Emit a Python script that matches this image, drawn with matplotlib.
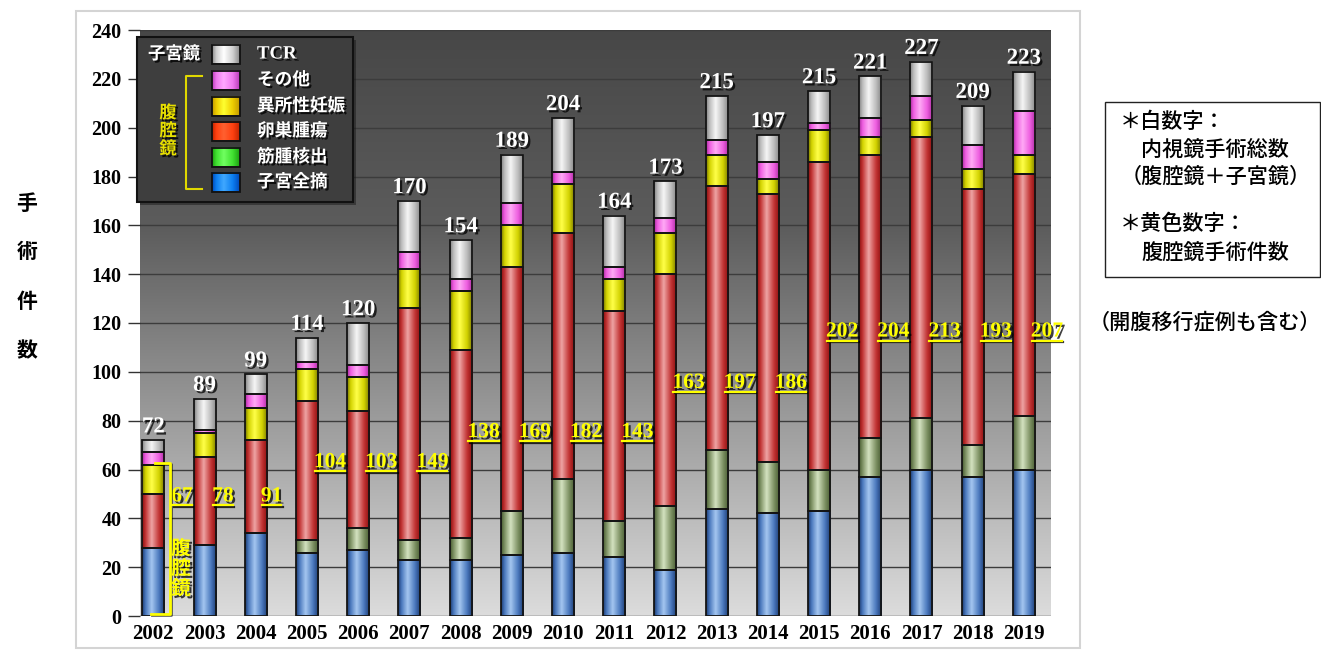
import numpy as np
import matplotlib
matplotlib.use('Agg')
import matplotlib.pyplot as plt
import matplotlib.patheffects as pe
from matplotlib.colors import LinearSegmentedColormap
from matplotlib.patches import Rectangle
from matplotlib.lines import Line2D

# ---------------- data ----------------
years = [str(y) for y in range(2002, 2020)]
hysterectomy = [28, 29, 34, 26, 27, 23, 23, 25, 26, 24, 19, 44, 42, 43, 57, 60, 57, 60]   # 子宮全摘
myomectomy   = [0, 0, 0, 5, 9, 8, 9, 18, 30, 15, 26, 24, 21, 17, 16, 21, 13, 22]         # 筋腫核出
ovarian      = [22, 36, 38, 57, 48, 95, 77, 100, 101, 86, 95, 108, 110, 126, 116, 115, 105, 99]  # 卵巣腫瘍
ectopic      = [12, 10, 13, 13, 14, 16, 24, 17, 20, 13, 17, 13, 6, 13, 7, 7, 8, 8]         # 異所性妊娠
other        = [5, 1, 6, 3, 5, 7, 5, 9, 5, 5, 6, 6, 7, 3, 8, 10, 10, 18]                  # その他
tcr          = [5, 13, 8, 10, 17, 21, 16, 20, 22, 21, 15, 18, 11, 13, 17, 14, 16, 16]      # TCR
total_labels = [72, 89, 99, 114, 120, 170, 154, 189, 204, 164, 173, 215, 197, 215, 221, 227, 209, 223]
lap_labels   = [67, 78, 91, 104, 103, 149, 138, 169, 182, 143, 163, 197, 186, 202, 204, 213, 193, 207]
legend_names = ['TCR', 'その他', '異所性妊娠', '卵巣腫瘍', '筋腫核出', '子宮全摘']
y_ticks = list(range(0, 241, 20))

# ---------------- layout / style ----------------
W, H = 1321, 650
fig = plt.figure(figsize=(W / 100, H / 100), dpi=100)
fig.patch.set_facecolor('white')
SERIF = 'Liberation Serif'
CJK = ['Noto Sans CJK JP', 'DejaVu Sans']

ax = fig.add_axes([140 / W, 1 - 616 / H, (1051 - 140) / W, (616 - 30) / H])
xl = (-0.26, 17.53)
yl = (0, 240)

# background gradient
bg = LinearSegmentedColormap.from_list('bg', ['#dcdcdc', '#9c9c9c', '#5c5c5c', '#474747'])
ax.imshow(np.linspace(0, 1, 256).reshape(-1, 1), extent=[xl[0], xl[1], yl[0], yl[1]],
          origin='lower', aspect='auto', cmap=bg, zorder=0, interpolation='bilinear')

ax.set_yticks(y_ticks)
ax.yaxis.grid(True, color='#3c3c3c', linewidth=1.0, zorder=1)
ax.set_axisbelow(False)
for s in ax.spines.values():
    s.set_visible(False)

series = [hysterectomy, myomectomy, ovarian, ectopic, other, tcr]
bar_cols = [
    ('#1b3a70', '#4a78bd', '#a4c6f0'),
    ('#465a30', '#7d9163', '#d4e2c0'),
    ('#8a0e0e', '#c23434', '#eea4a4'),
    ('#767600', '#d2d200', '#ffff48'),
    ('#a82a9e', '#ee5ee0', '#ffaaf6'),
    ('#848484', '#bcbcbc', '#f6f6f6'),
]


def grad_cmap(c):
    return LinearSegmentedColormap.from_list('g', [(0, c[0]), (0.15, c[1]), (0.42, c[2]),
                                                   (0.75, c[1]), (1, c[0])])


gx = np.linspace(0, 1, 64).reshape(1, -1)
x = np.arange(len(years))
bottom = np.zeros(len(years))
bw = 0.43
for vals, cols in zip(series, bar_cols):
    vals = np.array(vals, dtype=float)
    bars = ax.bar(x, vals, width=bw, bottom=bottom, color='none',
                  edgecolor='#141414', linewidth=1.3, zorder=4)
    cm = grad_cmap(cols)
    for b, v in zip(bars, vals):
        if v <= 0:
            continue
        ax.imshow(gx, extent=[b.get_x(), b.get_x() + b.get_width(), b.get_y(), b.get_y() + b.get_height()],
                  aspect='auto', cmap=cm, zorder=3, interpolation='bilinear')
    bottom += vals

shadow_dark = [pe.SimplePatchShadow(offset=(1.6, -1.6), shadow_rgbFace='black', alpha=0.75), pe.Normal()]

# total labels
for i, (top, lab) in enumerate(zip(bottom, total_labels)):
    ax.annotate(str(lab), (i, top), xytext=(0, 2), textcoords='offset points',
                ha='center', va='bottom', color='white', fontsize=16.5, fontweight='bold',
                family=SERIF, path_effects=shadow_dark, zorder=6)

# laparoscopy labels (yellow, underlined)
lap_y = [49, 49, 49, 63, 63, 63, 75.3, 75.3, 75.3, 75.3, 95.5, 95.5, 95.5, 116.5, 116.5, 116.5, 116.5, 116.5]
lap_dx = [0.56, 0.36, 0.31, 0.45, 0.45, 0.45, 0.45, 0.45, 0.45, 0.45, 0.45, 0.45, 0.45, 0.45, 0.45, 0.45, 0.45, 0.45]
lap_texts = []
for i, lab in enumerate(lap_labels):
    t = ax.text(i + lap_dx[i], lap_y[i], str(lab), ha='center', va='center', color='#ffff00',
                fontsize=15.5, fontweight='bold', family=SERIF, path_effects=shadow_dark, zorder=6)
    lap_texts.append(t)

ax.set_xticks(x)
ax.set_xticklabels(years, fontsize=15, fontweight='bold', family=SERIF)
ax.tick_params(axis='x', length=0, pad=6)
ax.tick_params(axis='y', length=8.5, color='#333333', width=1, pad=5)
for lab in ax.get_yticklabels():
    lab.set_fontsize(14.5)
    lab.set_fontweight('bold')
    lab.set_family(SERIF)
ax.set_xlim(*xl)
ax.set_ylim(*yl)

# ---------------- overlay in pixel coordinates ----------------
ov = fig.add_axes([0, 0, 1, 1], zorder=10)
ov.set_xlim(0, W)
ov.set_ylim(H, 0)
ov.axis('off')
ov.patch.set_alpha(0)

# outer frame
ov.add_patch(Rectangle((76, 11), 1004, 637, fill=False, ec='#d4d4d4', lw=1.5))

# legend
ov.add_patch(Rectangle((140, 40), 216, 165, fc='#1a1a1a', ec='none', alpha=0.5))
ov.add_patch(Rectangle((137, 37), 216, 165, fc='#3e3e3e', ec='#111111', lw=1.5))
leg_cols = [
    ('#8a8a8a', '#d0d0d0', '#ffffff'),
    ('#b83ab8', '#ee77ee', '#ffa8ff'),
    ('#c09800', '#eccc00', '#ffff30'),
    ('#c02400', '#ff4010', '#ff6030'),
    ('#1c9e10', '#40e030', '#70ff60'),
    ('#0048b8', '#0c7ef0', '#40a8ff'),
]
leg_y = [54, 80, 106, 131, 157, 182]
white_shadow = [pe.SimplePatchShadow(offset=(1.5, -1.5), shadow_rgbFace='black', alpha=0.8), pe.Normal()]
for name, cols, yy in zip(legend_names, leg_cols, leg_y):
    r = Rectangle((212, yy - 9.5), 28, 19, fc='none', ec='#111111', lw=1.3, zorder=3)
    ov.add_patch(r)
    ov.imshow(gx, extent=[212, 240, yy + 9.5, yy - 9.5], aspect='auto',
              cmap=grad_cmap(cols), zorder=2, interpolation='bilinear')
    if name == 'TCR':
        ov.text(257, yy, name, ha='left', va='center', color='white', fontsize=13.5,
                fontweight='bold', family=SERIF, path_effects=white_shadow)
    else:
        ov.text(257, yy, name, ha='left', va='center', color='white', fontsize=12.7,
                fontweight='bold', family=CJK, path_effects=white_shadow)
ov.text(148, 54, '子宮鏡', ha='left', va='center', color='white', fontsize=12.5,
        fontweight='bold', family=CJK, path_effects=white_shadow)
ov.add_line(Line2D([202, 186, 186, 202], [76, 76, 189, 189], color='#e0d800', lw=1.5))
for ch, yy in zip('腹腔鏡', [113, 131, 149]):
    ov.text(168, yy, ch, ha='center', va='center', color='#e8e000', fontsize=12.5,
            fontweight='bold', family=CJK, path_effects=white_shadow)

# bracket on the 2002 bar
ov.add_line(Line2D([155, 170, 170, 151], [463, 463, 614, 614], color='#ffff00', lw=2,
                   path_effects=[pe.SimpleLineShadow(offset=(1, -1), alpha=0.6), pe.Normal()]))
for ch, yy in zip('腹腔鏡', [549, 569, 589]):
    ov.text(181, yy, ch, ha='center', va='center', color='#ffff00', fontsize=14,
            fontweight='bold', family=CJK, path_effects=shadow_dark)

# y label
for ch, yy in zip('手術件数', [203, 252, 302, 351]):
    ov.text(27, yy, ch, ha='center', va='center', color='black', fontsize=15,
            fontweight='bold', family=CJK)

# right explanation box
ov.add_patch(Rectangle((1105, 102), 215, 175, fill=False, ec='#222222', lw=1))
notes = [(1120, 122, '＊白数字：'), (1141, 150, '内視鏡手術総数'), (1121, 177, '（腹腔鏡＋子宮鏡）'),
         (1120, 224, '＊黄色数字：'), (1141, 254, '腹腔鏡手術件数'), (1089, 322, '（開腹移行症例も含む）')]
for xx, yy, s in notes:
    ov.text(xx, yy, s, ha='left', va='center', color='black', fontsize=15.2,
            fontweight='medium', family=CJK)

# underline yellow numbers
fig.canvas.draw()
rend = fig.canvas.get_renderer()
for t in lap_texts:
    bb = t.get_window_extent(rend)
    yy = H - bb.y0 - 1
    ov.add_line(Line2D([bb.x0 + 1, bb.x1 - 1], [yy, yy], color='#ffff00', lw=1.6,
                       path_effects=[pe.SimpleLineShadow(offset=(1, -1), alpha=0.8), pe.Normal()]))

fig.savefig('out.png', dpi=100, facecolor='white')
